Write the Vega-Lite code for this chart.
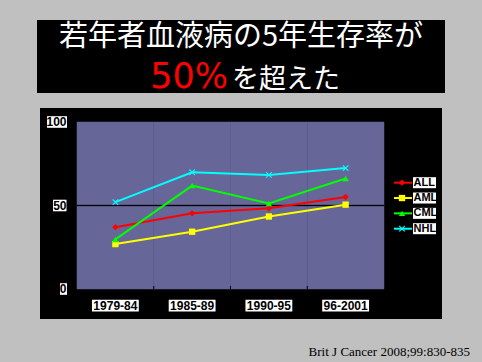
{
  "$schema": "https://vega.github.io/schema/vega-lite/v6.json",
  "background": "#c0c0c0",
  "padding": {"left": 37, "top": 20, "right": 12, "bottom": 4},
  "config": {"view": {"stroke": null}, "font": "Liberation Sans"},
  "title": {"text": "Brit J Cancer  2008;99:830-835", "orient": "bottom", "anchor": "end", "font": "Liberation Serif", "fontSize": 13, "fontWeight": "normal", "color": "black", "offset": 27, "dx": 25},
  "spacing": 15,
  "center": true,
  "bounds": "flush",
  "datasets": {
    "periods": [{"period": "1979-84"}, {"period": "1985-89"}, {"period": "1990-95"}, {"period": "96-2001"}],
    "ticks": [{"tick": 0}, {"tick": 50}, {"tick": 100}],
    "series": [{"series": "ALL"}, {"series": "AML"}, {"series": "CML"}, {"series": "NHL"}],
    "survival": [
      {"series": "ALL", "period": "1979-84", "value": 37},
      {"series": "ALL", "period": "1985-89", "value": 45.3},
      {"series": "ALL", "period": "1990-95", "value": 48.3},
      {"series": "ALL", "period": "96-2001", "value": 55.1},
      {"series": "AML", "period": "1979-84", "value": 26.9},
      {"series": "AML", "period": "1985-89", "value": 34.3},
      {"series": "AML", "period": "1990-95", "value": 43.4},
      {"series": "AML", "period": "96-2001", "value": 50.5},
      {"series": "CML", "period": "1979-84", "value": 29.7},
      {"series": "CML", "period": "1985-89", "value": 61.9},
      {"series": "CML", "period": "1990-95", "value": 51.2},
      {"series": "CML", "period": "96-2001", "value": 66.2},
      {"series": "NHL", "period": "1979-84", "value": 52},
      {"series": "NHL", "period": "1985-89", "value": 69.9},
      {"series": "NHL", "period": "1990-95", "value": 68.3},
      {"series": "NHL", "period": "96-2001", "value": 72.4}
    ],
    "title": [{"line1": "若年者血液病の5年生存率が", "hi": "50%", "rest": "を超えた"}]
  },
  "vconcat": [
    {
      "width": 408,
      "height": 73,
      "view": {"fill": "black", "stroke": null},
      "data": {"name": "title"},
      "layer": [
        {"mark": {"type": "text", "font": "Noto Sans CJK JP", "fontSize": 29, "color": "white", "baseline": "middle", "align": "center", "dy": -19.5}, "encoding": {"text": {"field": "line1", "type": "nominal"}}},
        {"mark": {"type": "text", "font": "DejaVu Sans", "fontSize": 35, "color": "#ff0000", "baseline": "middle", "align": "right", "dx": -13, "dy": 20}, "encoding": {"text": {"field": "hi", "type": "nominal"}}},
        {"mark": {"type": "text", "font": "Noto Sans CJK JP", "fontSize": 27, "color": "white", "baseline": "middle", "align": "left", "dx": -9, "dy": 23}, "encoding": {"text": {"field": "rest", "type": "nominal"}}}
      ]
    },
    {
      "width": 402,
      "height": 211,
      "view": {"fill": "black", "stroke": null},
      "resolve": {"scale": {"y": "independent"}},
      "layer": [
        {
          "data": {"name": "survival"},
          "layer": [
            {
              "data": {"name": "periods"},
              "mark": {"type": "rect", "fill": "#666699", "stroke": "#666699", "strokeWidth": 0.5},
              "encoding": {
                "x": {"field": "period", "type": "ordinal", "axis": null, "scale": {"type": "band", "domain": ["1979-84", "1985-89", "1990-95", "96-2001"], "paddingInner": 0, "paddingOuter": 0.6189, "align": 0.3895, "round": false}},
                "y": {"datum": 0, "type": "quantitative", "axis": null, "scale": {"domain": [-17.96, 108.38], "nice": false, "zero": false}},
                "y2": {"datum": 100}
              }
            },
            {
              "data": {"name": "periods"},
              "mark": {"type": "rect", "fill": "black", "stroke": "black", "strokeWidth": 0.3},
              "encoding": {
                "x": {"field": "period", "type": "ordinal", "axis": null},
                "y": {"datum": 49.7, "type": "quantitative", "axis": null},
                "y2": {"datum": 50.3}
              }
            },
            {
              "data": {"name": "periods"},
              "transform": [{"filter": "datum.period != '1979-84'"}],
              "mark": {"type": "rule", "color": "black", "strokeWidth": 1},
              "encoding": {
                "x": {"field": "period", "type": "ordinal", "bandPosition": 0, "axis": null},
                "y": {"datum": 0, "type": "quantitative", "axis": null},
                "y2": {"datum": 1.8}
              }
            },
            {
              "mark": {"type": "line", "strokeWidth": 2},
              "encoding": {
                "x": {"field": "period", "type": "ordinal", "axis": null},
                "y": {"field": "value", "type": "quantitative", "axis": null},
                "color": {"field": "series", "type": "nominal", "legend": null, "scale": {"domain": ["ALL", "AML", "CML", "NHL"], "range": ["#ff0000", "#ffff00", "#00ff00", "#00ffff"]}}
              }
            },
            {
              "mark": {"type": "point", "filled": true, "size": 40, "opacity": 1},
              "encoding": {
                "x": {"field": "period", "type": "ordinal", "axis": null},
                "y": {"field": "value", "type": "quantitative", "axis": null},
                "color": {"field": "series", "type": "nominal", "legend": null},
                "shape": {"field": "series", "type": "nominal", "legend": null, "scale": {"domain": ["ALL", "AML", "CML", "NHL"], "range": ["diamond", "square", "triangle-up", "M-1,-0.75L-0.75,-1L0,-0.25L0.75,-1L1,-0.75L0.25,0L1,0.75L0.75,1L0,0.25L-0.75,1L-1,0.75L-0.25,0Z"]}}
              }
            },
            {
              "data": {"name": "periods"},
              "mark": {"type": "bar", "color": "white", "width": {"band": 0.61}},
              "encoding": {
                "x": {"field": "period", "type": "ordinal", "axis": null},
                "y": {"datum": -6.4, "type": "quantitative", "axis": null},
                "y2": {"datum": -13.5}
              }
            },
            {
              "data": {"name": "periods"},
              "mark": {"type": "text", "fontWeight": "bold", "fontSize": 12, "color": "black", "baseline": "middle", "align": "center"},
              "encoding": {
                "x": {"field": "period", "type": "ordinal", "axis": null},
                "y": {"datum": -10, "type": "quantitative", "axis": null},
                "text": {"field": "period", "type": "nominal"}
              }
            },
            {
              "data": {"name": "ticks"},
              "transform": [{"filter": "datum.tick == 100"}],
              "mark": {"type": "point", "shape": "M-30,-5.8H-10V5.8H-30Z", "filled": true, "size": 4, "color": "white", "opacity": 1},
              "encoding": {
                "x": {"datum": "1979-84", "type": "ordinal", "bandPosition": 0, "axis": null},
                "y": {"field": "tick", "type": "quantitative", "axis": null}
              }
            },
            {
              "data": {"name": "ticks"},
              "transform": [{"filter": "datum.tick == 50"}],
              "mark": {"type": "point", "shape": "M-24,-5.8H-10.5V5.8H-24Z", "filled": true, "size": 4, "color": "white", "opacity": 1},
              "encoding": {
                "x": {"datum": "1979-84", "type": "ordinal", "bandPosition": 0, "axis": null},
                "y": {"field": "tick", "type": "quantitative", "axis": null}
              }
            },
            {
              "data": {"name": "ticks"},
              "transform": [{"filter": "datum.tick == 0"}],
              "mark": {"type": "point", "shape": "M-17,-5.8H-10V5.8H-17Z", "filled": true, "size": 4, "color": "white", "opacity": 1},
              "encoding": {
                "x": {"datum": "1979-84", "type": "ordinal", "bandPosition": 0, "axis": null},
                "y": {"field": "tick", "type": "quantitative", "axis": null}
              }
            },
            {
              "data": {"name": "ticks"},
              "mark": {"type": "text", "fontWeight": "bold", "fontSize": 12, "color": "black", "baseline": "middle", "align": "right", "dx": -10.5},
              "encoding": {
                "x": {"datum": "1979-84", "type": "ordinal", "bandPosition": 0, "axis": null},
                "y": {"field": "tick", "type": "quantitative", "axis": null},
                "text": {"field": "tick", "type": "quantitative"}
              }
            }
          ]
        },
        {
          "data": {"name": "series"},
          "encoding": {
            "x": {"datum": "96-2001", "type": "ordinal", "bandPosition": 1, "axis": null},
            "y": {"field": "series", "type": "nominal", "axis": null, "scale": {"type": "point", "domain": ["ALL", "AML", "CML", "NHL"], "range": [74.7, 120.7], "padding": 0, "round": false}}
          },
          "layer": [
            {"mark": {"type": "point", "shape": "M10,0H28", "filled": false, "size": 4, "strokeWidth": 2, "opacity": 1}, "encoding": {"color": {"field": "series", "type": "nominal", "legend": null}}},
            {"mark": {"type": "point", "filled": true, "size": 40, "opacity": 1, "xOffset": 18}, "encoding": {"color": {"field": "series", "type": "nominal", "legend": null}, "shape": {"field": "series", "type": "nominal", "legend": null}}},
            {"mark": {"type": "point", "shape": "M29,-5.5H52V5.5H29Z", "filled": true, "size": 4, "color": "white", "opacity": 1}},
            {"mark": {"type": "text", "align": "left", "baseline": "middle", "dx": 29.5, "fontSize": 11, "fontWeight": "bold", "color": "black"}, "encoding": {"text": {"field": "series", "type": "nominal"}}}
          ]
        }
      ]
    }
  ]
}
